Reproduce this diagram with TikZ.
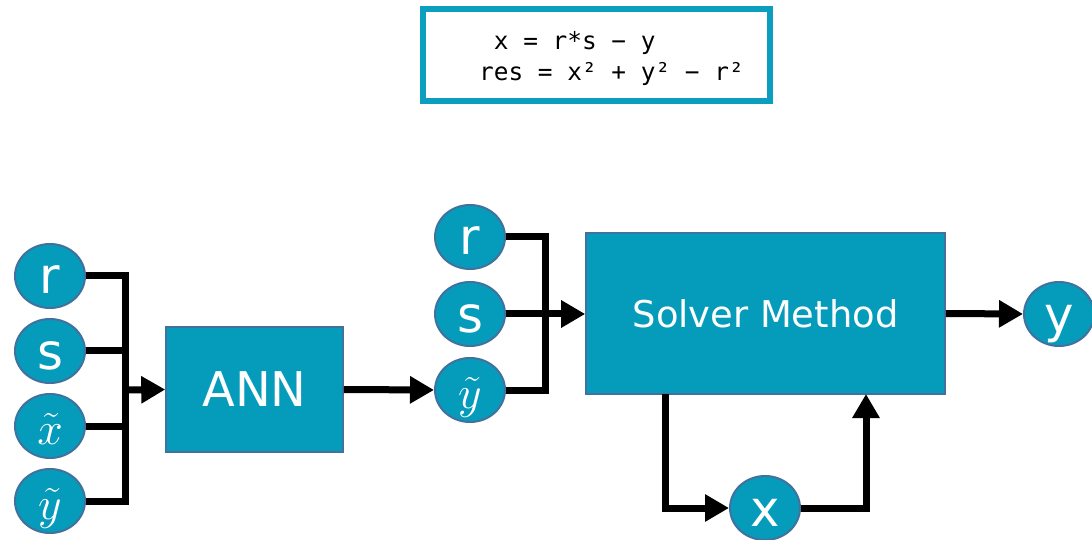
\RequirePackage{fix-cm}
\documentclass[tikz,border=0pt]{standalone}
\usepackage{fontspec}
\setmainfont{DejaVu Sans}
\setmonofont{DejaVu Sans Mono}
\usetikzlibrary{arrows.meta,shapes.geometric}
\definecolor{tealfill}{RGB}{5,156,188}
\definecolor{edgeblue}{RGB}{65,113,156}
\definecolor{frameteal}{RGB}{12,158,190}
\tikzset{
  var/.style={ellipse, fill=tealfill, draw=edgeblue, line width=2bp,
    minimum width=70bp, minimum height=64bp, inner sep=0pt, text=white,
    text height=36bp, text depth=0pt,
    font=\fontsize{50}{50}\selectfont},
  mathvar/.style={var, font=\fontsize{46}{46}\selectfont},
  block/.style={rectangle, fill=tealfill, draw=edgeblue, line width=1.6bp,
    inner sep=0pt, text=white},
  wire/.style={line width=7bp, black, line join=miter},
  arr/.style={wire, -{Triangle[length=24bp,width=26bp]}},
  code/.style={font=\ttfamily\fontsize{24.5}{24.5}\selectfont, inner sep=0pt, anchor=base west}
}
\begin{document}
\begin{tikzpicture}[x=1bp,y=-1bp]
\useasboundingbox (0,0) rectangle (1092,540);

% equation frame
\node[draw=frameteal, line width=6bp, minimum width=347bp, minimum height=92bp,
  inner sep=0pt] (frame) at (596.5,55.5) {};
\node[code] (eq1) at (479,50) {\phantom{r}x = r*s − y};
\node[code] (eq2) at (479,81) {res = x² + y² − r²};

% network inputs
\node[var] (r1) at (50,276) {r};
\node[var] (s1) at (50,351) {s};
\node[mathvar] (x1) at (50,426) {$\tilde{x}$};
\node[mathvar] (y1) at (50,501) {$\tilde{y}$};
\node[block, minimum width=177bp, minimum height=125bp,
  font=\fontsize{48}{48}\selectfont] (ann) at (254.5,389.5) {ANN};

% solver inputs
\node[var] (r2) at (470,237) {r};
\node[var] (s2) at (470,314) {s};
\node[mathvar] (y2) at (470,390) {$\tilde{y}$};
\node[block, minimum width=359bp, minimum height=161bp,
  font=\fontsize{37}{37}\selectfont] (solver) at (765.5,313.5) {Solver Method};

% output and intermediate
\node[var] (yo) at (1059,314) {y};
\node[var] (xm) at (765,508) {x};

% input buses
\coordinate (bus1) at (125,390);
\coordinate (bus2) at (545,314);
\draw[wire] (r1.east) -| (bus1) |- (y1.east);
\draw[wire] (s1.east) -- (s1.east -| bus1);
\draw[wire] (x1.east) -- (x1.east -| bus1);
\draw[arr] (bus1) -- (ann.west);
\draw[arr] (ann.east) -- (y2.west);

\draw[wire] (r2.east) -| (bus2) |- (y2.east);
\draw[arr] (s2.east) -- (s2.east -| solver.west);
\draw[arr] (solver.east) -- (yo.west);

% feedback through x
\coordinate (fbout) at (665,394);
\coordinate (fbin) at (866,394);
\draw[arr] (fbout) |- (xm.west);
\draw[arr] (xm.east) -| (fbin);
\end{tikzpicture}
\end{document}
